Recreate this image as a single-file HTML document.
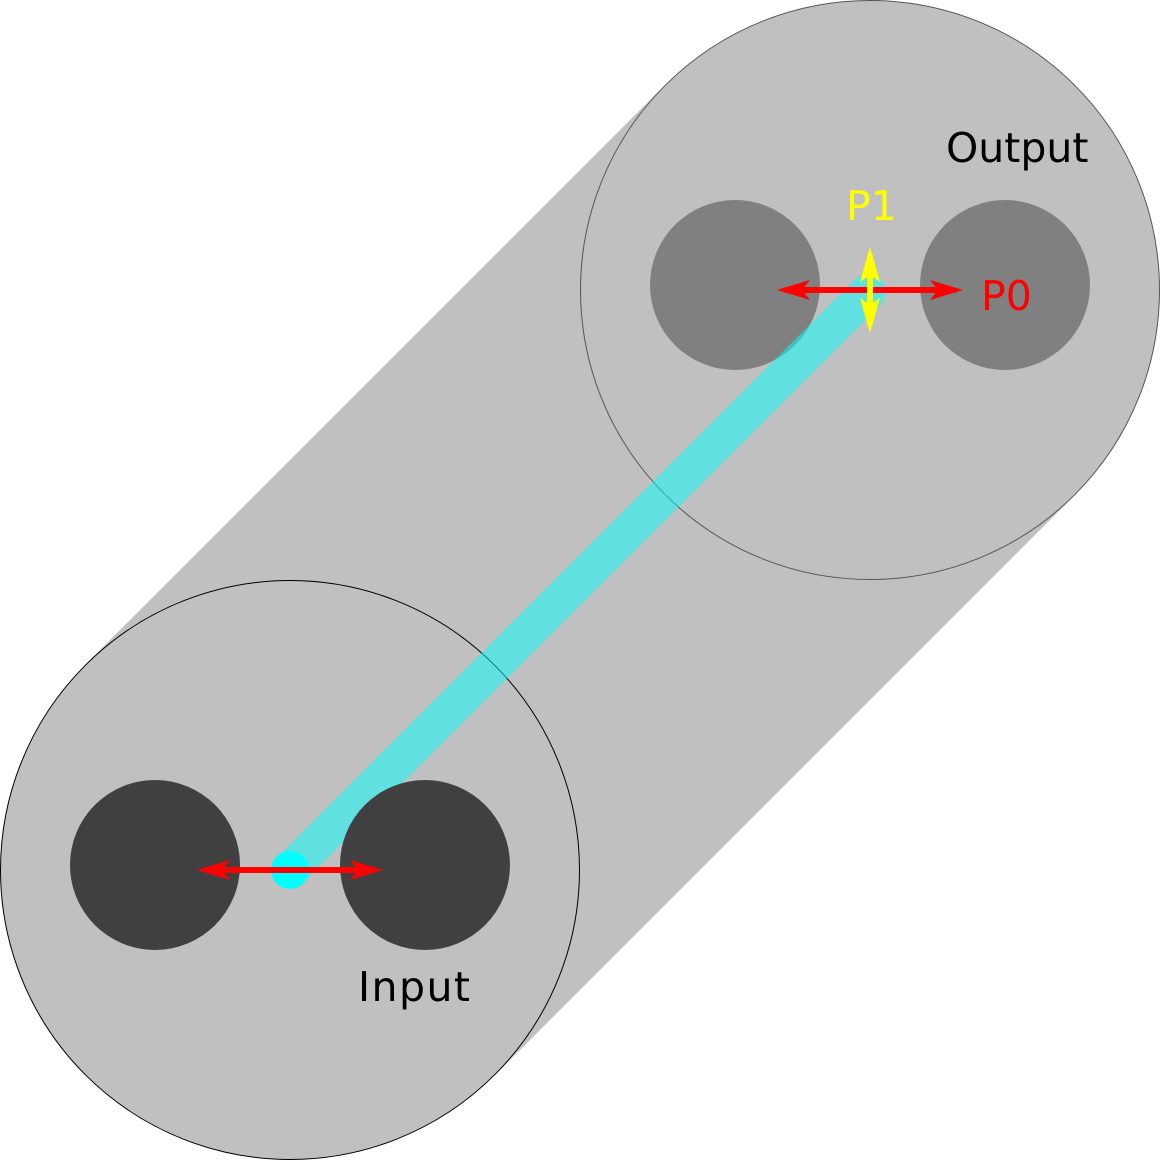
<!DOCTYPE html>
<html><head><style>html,body{margin:0;padding:0;background:#fff}svg{display:block}</style></head><body>
<svg width="1160" height="1160" viewBox="0 0 1160 1160" xmlns="http://www.w3.org/2000/svg">
<polygon points="85,665 665,85 1075,495 495,1075" fill="#c0c0c0"/>
<circle cx="290" cy="870" r="289.5" fill="#c0c0c0" stroke="#000" stroke-width="1"/>
<circle cx="870" cy="290" r="289.5" fill="#c0c0c0" stroke="#555" stroke-width="1"/>
<circle cx="735" cy="285" r="85" fill="#808080"/>
<circle cx="1005" cy="285" r="85" fill="#808080"/>
<line x1="290" y1="870" x2="868" y2="292" stroke="#00ffff" stroke-opacity="0.5" stroke-width="36" stroke-linecap="round"/>
<circle cx="155" cy="865" r="85" fill="#404040"/>
<circle cx="425" cy="865" r="85" fill="#404040"/>
<circle cx="290" cy="870" r="19" fill="#00ffff"/>
<g fill="red">
<rect x="205" y="867" width="170" height="6"/>
<path d="M197,870 L230,860 L222,870 L230,880 Z"/>
<path d="M383,870 L350,860 L358,870 L350,880 Z"/>
<rect x="785" y="287" width="170" height="6"/>
<path d="M777,290 L810,280 L802,290 L810,300 Z"/>
<path d="M963,290 L930,280 L938,290 L930,300 Z"/>
</g>
<g fill="yellow">
<rect x="867" y="255" width="6" height="70"/>
<path d="M870,247 L880,282 L870,275 L860,282 Z"/>
<path d="M870,333 L880,298 L870,305 L860,298 Z"/>
</g>
<g font-family="'DejaVu Sans','Liberation Sans',sans-serif" font-size="41">
<text x="946" y="162" fill="#000">Output</text>
<text x="846" y="220" fill="yellow">P1</text>
<text x="981" y="310" fill="red">P0</text>
<text x="358" y="1001" fill="#000" textLength="112">Input</text>
</g>
</svg>
</body></html>
